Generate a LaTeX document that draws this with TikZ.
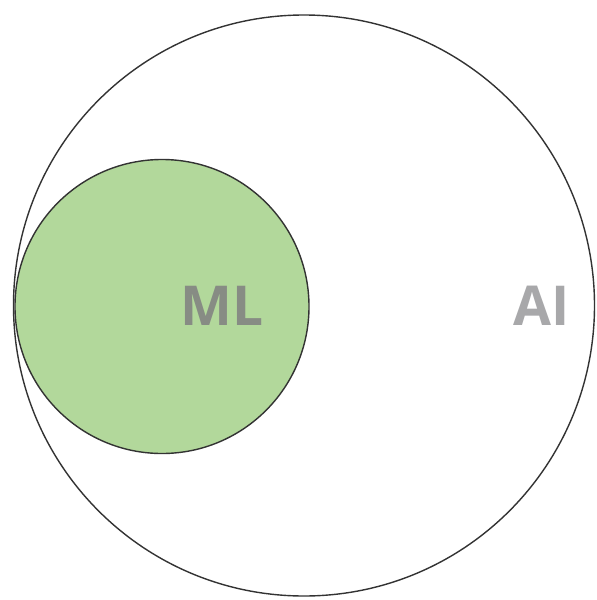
\documentclass[tikz,border=0pt]{standalone}
\usepackage{fontspec}
\setmainfont{Open Sans}
\definecolor{mlgreen}{RGB}{178,216,155}
\definecolor{mltext}{RGB}{135,140,132}
\definecolor{aitext}{RGB}{168,168,170}
\begin{document}
\begin{tikzpicture}[x=1pt,y=-1pt,
  ring/.style={draw=black!80,line width=1.4pt},
  lbl/.style={font=\fontsize{55}{60}\selectfont\bfseries,inner sep=0pt,anchor=base}]
\useasboundingbox (0,0) rectangle (597,600);
\draw[ring,fill=white] (304,305.5) circle[radius=290.5];
\draw[ring,fill=mlgreen] (162,306.5) circle[radius=147];
\node[lbl,text=mltext] (ml) at (222,325) {ML};
\node[lbl,text=aitext] (ai) at (542,325) {AI};
\end{tikzpicture}
\end{document}
